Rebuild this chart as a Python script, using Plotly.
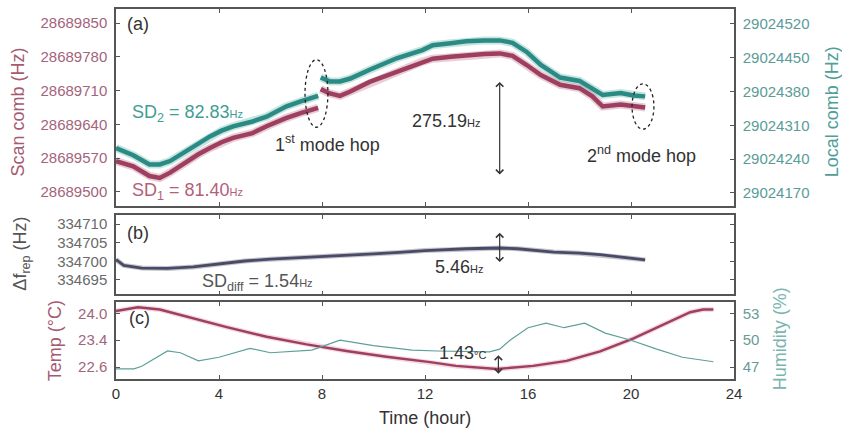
import plotly.graph_objects as go

# ---------------- data ----------------
# Panel (a): scan comb (left axis) and local comb (right axis), two segments split by the 1st mode hop
scan_h1 = [0.0, 0.67, 1.3, 1.7, 2.1, 2.75, 3.2, 3.65, 4.1, 4.55, 5.0, 5.3, 5.85, 6.2, 6.6, 7.2, 7.85]
scan_v1 = [28689564, 28689553, 28689533, 28689529, 28689540, 28689564, 28689578, 28689591, 28689603,
           28689612, 28689618, 28689622, 28689636, 28689645, 28689653, 28689664, 28689674]
scan_h2 = [7.95, 8.3, 8.7, 9.1, 9.85, 10.9, 11.9, 12.3, 13.0, 13.6, 14.3, 14.9, 15.4, 15.95, 16.5,
           17.25, 18.0, 18.5, 18.9, 19.6, 20.1, 20.55]
scan_v2 = [28689713, 28689704, 28689699, 28689708, 28689728, 28689749, 28689770, 28689776, 28689780,
           28689783, 28689786, 28689787, 28689782, 28689763, 28689742, 28689722, 28689715, 28689698,
           28689677, 28689681, 28689677, 28689675]
local_h1 = scan_h1
local_v1 = [29024263, 29024248, 29024229, 29024229, 29024236, 29024256, 29024272, 29024287, 29024299,
            29024308, 29024314, 29024318, 29024328, 29024338, 29024349, 29024360, 29024371]
local_h2 = scan_h2
local_v2 = [29024409, 29024401, 29024401, 29024407, 29024425, 29024449, 29024466, 29024476, 29024480,
            29024484, 29024486, 29024486, 29024481, 29024462, 29024435, 29024409, 29024402, 29024386,
            29024373, 29024377, 29024372, 29024370]

# Panel (b): repetition-rate difference
dfrep_h = [0.0, 0.3, 1.0, 2.0, 3.0, 4.0, 5.0, 6.0, 8.0, 10.0, 11.0, 12.0, 13.6, 14.9, 15.6, 16.2,
           17.0, 18.0, 18.8, 19.8, 20.55]
dfrep_v = [334700.5, 334698.9, 334698.2, 334698.1, 334698.5, 334699.4, 334700.1, 334700.6, 334701.2,
           334702.0, 334702.4, 334702.9, 334703.4, 334703.6, 334703.4, 334703.0, 334702.5, 334702.2,
           334701.8, 334701.0, 334700.4]

# Panel (c): temperature and humidity
temp_h = [0.0, 0.85, 1.7, 3.0, 4.3, 5.85, 7.4, 8.95, 10.5, 12.2, 13.2, 14.8, 16.2, 17.5, 18.8, 20.1,
          21.4, 22.3, 22.8, 23.2]
temp_v = [24.06, 24.16, 24.10, 23.86, 23.64, 23.39, 23.19, 23.02, 22.87, 22.73, 22.63, 22.55, 22.63,
          22.76, 23.01, 23.35, 23.74, 24.03, 24.10, 24.10]
hum_h = [0.0, 0.7, 1.0, 2.0, 2.5, 3.2, 4.0, 5.2, 6.0, 7.0, 7.6, 8.7, 10.0, 11.5, 12.5, 14.5, 14.9,
         15.3, 16.0, 16.7, 17.4, 18.2, 19.0, 20.0, 21.0, 22.0, 23.2]
hum_v = [46.8, 46.8, 47.1, 48.8, 48.6, 47.7, 48.1, 49.1, 48.6, 48.8, 48.9, 50.0, 49.4, 48.9, 48.8,
         48.7, 49.0, 50.0, 51.4, 51.9, 51.4, 51.9, 50.8, 50.0, 49.0, 48.1, 47.6]

x_ticks = [0, 4, 8, 12, 16, 20, 24]
scan_ticks = [28689500, 28689570, 28689640, 28689710, 28689780, 28689850]
local_ticks = [29024170, 29024240, 29024310, 29024380, 29024450, 29024520]
dfrep_ticks = [334695, 334700, 334705, 334710]
temp_ticks = [22.6, 23.3, 24.0]
temp_ticktext = ["22.6", "23.4", "24.0"]
hum_ticks = [47, 50, 53]

# ---------------- style ----------------
MAROON = "#9e3f5f"
MAROON_T = "#a3647c"
TEAL = "#2b8a83"
TEAL_T = "#5a9c97"
FRAME = "#555555"
FONT = "Liberation Sans, Arial, sans-serif"

fig = go.Figure()

def halo(x, y, color, w, xa, ya):
    fig.add_trace(go.Scatter(x=x, y=y, mode="lines", line=dict(color=color, width=w),
                             xaxis=xa, yaxis=ya, showlegend=False, hoverinfo="skip"))

# panel (a)
for hx, hv in [(scan_h1, scan_v1), (scan_h2, scan_v2)]:
    halo(hx, hv, "rgba(190,110,140,0.35)", 8, "x", "y")
    halo(hx, hv, MAROON, 4.5, "x", "y")
for hx, hv in [(local_h1, local_v1), (local_h2, local_v2)]:
    halo(hx, hv, "rgba(90,180,170,0.35)", 8, "x", "y2")
    halo(hx, hv, TEAL, 4.5, "x", "y2")

# panel (b)
halo(dfrep_h, dfrep_v, "rgba(90,90,120,0.35)", 5, "x2", "y3")
halo(dfrep_h, dfrep_v, "#4a4a66", 2.8, "x2", "y3")

# panel (c)
halo(hum_h, hum_v, "#5e9f9a", 1.2, "x3", "y5")
halo(temp_h, temp_v, "rgba(220,140,170,0.35)", 5, "x3", "y4")
halo(temp_h, temp_v, MAROON, 2.4, "x3", "y4")

tick_common = dict(ticks="inside", ticklen=4, tickwidth=1, tickcolor=FRAME, showline=True,
                   linecolor=FRAME, linewidth=1.5, showgrid=False, zeroline=False)

xcommon = dict(range=[0, 24], tickvals=x_ticks, mirror="ticks", **tick_common)

fig.update_layout(
    width=842, height=434,
    margin=dict(l=116, r=108, t=7, b=55),
    paper_bgcolor="white", plot_bgcolor="white",
    font=dict(family=FONT, size=15, color="#333"),
    showlegend=False,
    xaxis=dict(anchor="y", showticklabels=False, **xcommon),
    xaxis2=dict(anchor="y3", matches="x", showticklabels=False, **xcommon),
    xaxis3=dict(anchor="y4", matches="x", showticklabels=True,
                tickfont=dict(size=15, color="#333"), **xcommon),
    yaxis=dict(domain=[0.4677, 1], range=[28689471, 28689879], tickvals=scan_ticks, tickformat="d",
               tickfont=dict(size=15, color=MAROON_T), ticklabelstandoff=4, **tick_common),
    yaxis2=dict(overlaying="y", side="right", anchor="x", range=[29024143, 29024551],
                tickvals=local_ticks, tickformat="d", tickfont=dict(size=15, color=TEAL_T),
                ticklabelstandoff=4, **tick_common),
    yaxis3=dict(domain=[0.2285, 0.4435], anchor="x2", range=[334691.1, 334712.5], tickvals=dfrep_ticks,
                tickformat="d", mirror="ticks", tickfont=dict(size=15, color="#6a6a6a"),
                ticklabelstandoff=4, **tick_common),
    yaxis4=dict(domain=[0, 0.2083], anchor="x3", range=[22.289, 24.298], tickvals=temp_ticks,
                ticktext=temp_ticktext, tickfont=dict(size=15, color=MAROON_T),
                ticklabelstandoff=4, **tick_common),
    yaxis5=dict(overlaying="y4", side="right", anchor="x3", range=[45.67, 54.28], tickvals=hum_ticks,
                tickfont=dict(size=15, color="#6a9a97"), ticklabelstandoff=4, **tick_common),
)

small = "<span style='font-size:11px'>%s</span>"
ann = []

def txt(x, y, text, xref, yref, size=18, color="#333", xanchor="left", angle=0):
    ann.append(dict(x=x, y=y, xref=xref, yref=yref, text=text, showarrow=False, xanchor=xanchor,
                    yanchor="middle", textangle=angle, font=dict(size=size, color=color, family=FONT)))

# panel labels / texts
txt(0.35, 28689848, "(a)", "x", "y")
txt(0.54, 28689663, "SD<sub>2</sub> = 82.83" + small % "Hz", "x", "y", color="#3f9d94")
txt(0.54, 28689500, "SD<sub>1</sub> = 81.40" + small % "Hz", "x", "y", color="#b5607a")
txt(6.1, 28689601, "1<sup>st</sup> mode hop", "x", "y")
txt(11.42, 28689646, "275.19" + small % "Hz", "x", "y")
txt(18.2, 28689578, "2<sup>nd</sup> mode hop", "x", "y")
txt(0.35, 334707.5, "(b)", "x2", "y3")
txt(3.26, 334694.3, "SD<sub>diff</sub> = 1.54" + small % "Hz", "x2", "y3", color="#555")
txt(12.3, 334698.4, "5.46" + small % "Hz", "x2", "y3")
txt(0.43, 23.87, "(c)", "x3", "y4")
txt(12.47, 22.96, "1.43" + small % "°C", "x3", "y4")

# axis titles
txt(-0.157, 0.723, "Scan comb (Hz)", "paper", "paper", size=18, color="#a65a72", xanchor="center", angle=-90)
txt(1.160, 0.723, "Local comb (Hz)", "paper", "paper", size=18, color="#4f9e98", xanchor="center", angle=-90)
txt(-0.152, 0.339, "Δf<sub>rep</sub> (Hz)", "paper", "paper", size=18, color="#555", xanchor="center", angle=-90)
txt(-0.0987, 0.102, "Temp (°C)", "paper", "paper", size=18, color="#a65a72", xanchor="center", angle=-90)
txt(1.0744, 0.110, "Humidity (%)", "paper", "paper", size=18, color="#7ab5b0", xanchor="center", angle=-90)
txt(0.5, -0.105, "Time (hour)", "paper", "paper", size=18, color="#333", xanchor="center")

# double arrows
def darrow(x, y0, y1, xref, yref):
    ann.append(dict(x=x, y=y1, ax=x, ay=y0, xref=xref, yref=yref, axref=xref, ayref=yref, text="",
                    showarrow=True, arrowhead=4, startarrowhead=4, arrowside="end+start",
                    arrowsize=1.2, startarrowsize=1.2, arrowwidth=1.2, arrowcolor="#333"))

darrow(14.9, 28689533, 28689728, "x", "y")
darrow(14.9, 334699.4, 334707.7, "x2", "y3")
darrow(14.85, 22.39, 22.91, "x3", "y4")

fig.update_layout(annotations=ann)

# dotted ellipses around the mode hops
fig.add_shape(type="circle", xref="x", yref="y", x0=7.34, x1=8.23, y0=28689634, y1=28689774,
              line=dict(color="#222", width=1.3, dash="dot"))
fig.add_shape(type="circle", xref="x", yref="y", x0=20.04, x1=20.89, y0=28689630, y1=28689724,
              line=dict(color="#222", width=1.3, dash="dot"))

fig.write_html("out.html", config={"displayModeBar": False})
